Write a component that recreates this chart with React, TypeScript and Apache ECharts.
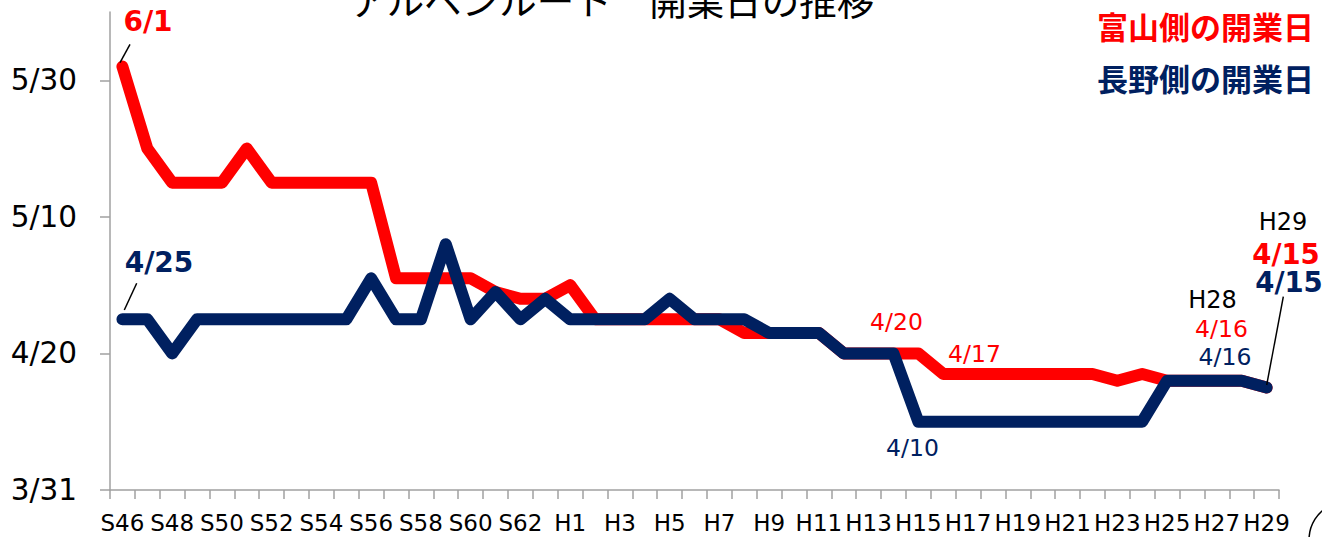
import { useEffect, useRef } from "react";
import * as echarts from "echarts";

const categories = [
  "S46", "S47", "S48", "S49", "S50", "S51", "S52", "S53", "S54", "S55",
  "S56", "S57", "S58", "S59", "S60", "S61", "S62", "S63",
  "H1", "H2", "H3", "H4", "H5", "H6", "H7", "H8", "H9", "H10",
  "H11", "H12", "H13", "H14", "H15", "H16", "H17", "H18", "H19", "H20",
  "H21", "H22", "H23", "H24", "H25", "H26", "H27", "H28", "H29",
];

// 富山側の開業日
const toyamaDates = [
  "6/1", "5/20", "5/15", "5/15", "5/15", "5/20", "5/15", "5/15", "5/15", "5/15",
  "5/15", "5/1", "5/1", "5/1", "5/1", "4/29", "4/28", "4/28",
  "4/30", "4/25", "4/25", "4/25", "4/25", "4/25", "4/25", "4/23", "4/23", "4/23",
  "4/23", "4/20", "4/20", "4/20", "4/20", "4/17", "4/17", "4/17", "4/17", "4/17",
  "4/17", "4/17", "4/16", "4/17", "4/16", "4/16", "4/16", "4/16", "4/15",
];

// 長野側の開業日
const naganoDates = [
  "4/25", "4/25", "4/20", "4/25", "4/25", "4/25", "4/25", "4/25", "4/25", "4/25",
  "5/1", "4/25", "4/25", "5/6", "4/25", "4/29", "4/25", "4/28",
  "4/25", "4/25", "4/25", "4/25", "4/28", "4/25", "4/25", "4/25", "4/23", "4/23",
  "4/23", "4/20", "4/20", "4/20", "4/10", "4/10", "4/10", "4/10", "4/10", "4/10",
  "4/10", "4/10", "4/10", "4/10", "4/16", "4/16", "4/16", "4/16", "4/15",
];

const yTickValues = [0, 20, 40, 60];
const yTickLabels = ["3/31", "4/20", "5/10", "5/30"];

const titleText = "アルペンルート　開業日の推移";
const legendToyama = "富山側の開業日";
const legendNagano = "長野側の開業日";

const RED = "#FF0000";
const NAVY = "#002060";
const AXIS_GRAY = "#a0a0a0";

// days counted from 3/31
function dayOffset(md: string): number {
  const [m, d] = md.split("/").map(Number);
  const monthStart: Record<number, number> = { 3: -31, 4: 0, 5: 30, 6: 61 };
  return monthStart[m] + d;
}

function txt(text: string, x: number, y: number, fill: string, fontSize: number, bold = false, family = "DejaVu Sans", align = "center") {
  return {
    type: "text",
    x,
    y,
    z: 100,
    style: {
      text,
      fill,
      fontSize,
      fontWeight: bold ? "bold" : "normal",
      fontFamily: family,
      align,
      verticalAlign: "middle",
    },
  };
}

function leader(x1: number, y1: number, x2: number, y2: number) {
  return {
    type: "line",
    z: 100,
    shape: { x1, y1, x2, y2 },
    style: { stroke: "#000", lineWidth: 1.5 },
  };
}

export default function App() {
  const ref = useRef<HTMLDivElement>(null);

  useEffect(() => {
    if (!ref.current) return;
    const chart = echarts.init(ref.current, null, { renderer: "svg" });
    const axisLine = { color: AXIS_GRAY, width: 1.5 };
    chart.setOption({
      animation: false,
      backgroundColor: "#ffffff",
      grid: { left: 110, right: 43, top: 12, bottom: 47, containLabel: false, outerBoundsMode: "none" },
      xAxis: {
        type: "category",
        data: categories,
        boundaryGap: true,
        axisLine: { show: true, lineStyle: axisLine },
        axisTick: { show: true, interval: 0, length: 9, lineStyle: axisLine },
        axisLabel: {
          interval: 1,
          margin: 21,
          fontFamily: "DejaVu Sans",
          fontSize: 23,
          color: "#000",
          hideOverlap: false,
        },
        splitLine: { show: false },
      },
      yAxis: {
        type: "value",
        min: 0,
        max: 70,
        axisLine: { show: true, lineStyle: axisLine },
        axisTick: { show: true, length: 10, customValues: yTickValues, lineStyle: axisLine },
        axisLabel: {
          customValues: yTickValues,
          formatter: (v: number) => {
            const i = yTickValues.indexOf(v);
            return i >= 0 ? yTickLabels[i] : "";
          },
          margin: 33,
          fontFamily: "DejaVu Sans",
          fontSize: 29.5,
          color: "#000",
          padding: [0, 0, 8, 0],
        },
        splitLine: { show: false },
      },
      series: [
        {
          name: legendToyama,
          type: "line",
          data: toyamaDates.map(dayOffset),
          symbol: "none",
          z: 2,
          lineStyle: { color: RED, width: 12, cap: "round", join: "round" },
        },
        {
          name: legendNagano,
          type: "line",
          data: naganoDates.map(dayOffset),
          symbol: "none",
          z: 3,
          lineStyle: { color: NAVY, width: 12, cap: "round", join: "round" },
        },
      ],
      graphic: [
        txt(titleText, 612, -2, "#000", 37.5, false, "Noto Sans CJK JP"),
        txt(legendToyama, 1314, 25, RED, 31, true, "Noto Sans CJK JP", "right"),
        txt(legendNagano, 1314, 77, NAVY, 31, true, "Noto Sans CJK JP", "right"),
        txt("6/1", 148, 21, RED, 28, true),
        leader(120, 62.7, 130, 44.3),
        txt("4/25", 159, 262, NAVY, 28, true),
        leader(124.3, 310, 136.7, 283.3),
        txt("4/20", 896.5, 321.7, RED, 23.5),
        txt("4/17", 974.5, 354, RED, 23.5),
        txt("4/10", 912.5, 447.5, NAVY, 23.5),
        txt("H28", 1212.5, 299.5, "#000", 24),
        txt("4/16", 1221.5, 329, RED, 23.5),
        txt("4/16", 1225, 356.5, NAVY, 23.5),
        txt("H29", 1283, 222, "#000", 24),
        txt("4/15", 1286, 253.5, RED, 27.5, true),
        txt("4/15", 1289, 281.5, NAVY, 27.5, true),
        leader(1266.7, 385, 1283.3, 296.7),
        {
          type: "circle",
          z: 100,
          shape: { cx: 1348, cy: 540, r: 39 },
          style: { fill: "none", stroke: "#000", lineWidth: 1.5 },
        },
      ],
    });
    return () => chart.dispose();
  }, []);

  return (
    <div
      ref={ref}
      style={{ position: "absolute", left: 0, top: 0, width: 1322, height: 537, background: "#fff" }}
    />
  );
}
